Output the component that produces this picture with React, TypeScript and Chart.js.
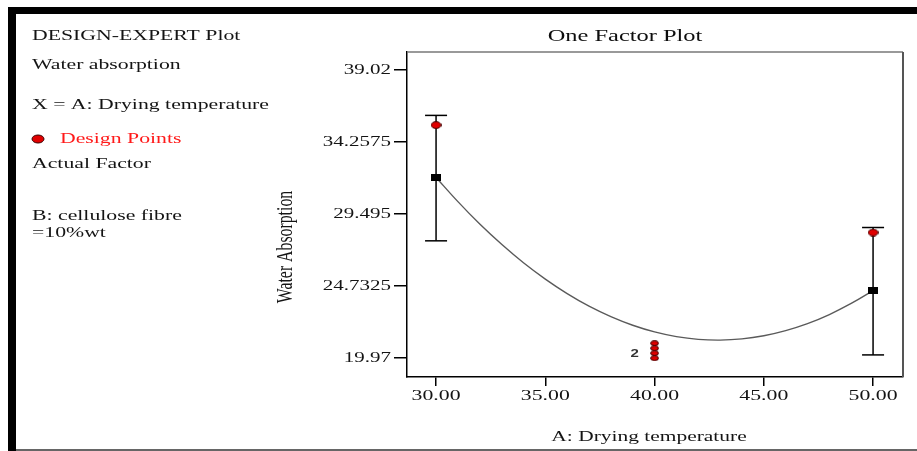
import React, { useEffect, useRef } from "react";
import { Chart, registerables } from "chart.js";

Chart.register(...registerables);

// ---- data ----
const curveX = [30, 31, 32, 33, 34, 35, 36, 37, 38, 39, 40, 41, 42, 43, 44, 45, 46, 47, 48, 49, 50];
const curveY = [31.92, 30.32, 28.84, 27.5, 26.28, 25.2, 24.24, 23.41, 22.72, 22.15, 21.71, 21.4, 21.22, 21.17, 21.25, 21.46, 21.8, 22.26, 22.86, 23.59, 24.44];

const meanX = [30, 50];
const meanY = [31.92, 24.44];
const errLow = [27.73, 20.19];
const errHigh = [36.02, 28.61];

const designX = [30, 50, 40, 40, 40, 40];
const designY = [35.38, 28.28, 20.96, 20.63, 20.3, 19.97];

const xTicks = [30, 35, 40, 45, 50];
const xTickLabels = ["30.00", "35.00", "40.00", "45.00", "50.00"];
const yTicks = [19.97, 24.7325, 29.495, 34.2575, 39.02];
const yTickLabels = ["19.97", "24.7325", "29.495", "34.2575", "39.02"];

const X_MIN = 28.67;
const X_MAX = 51.37;
const Y_MIN = 18.73;
const Y_MAX = 40.21;

const SERIF = '"Liberation Serif", "Times New Roman", serif';
const STRETCH = 1.5;

function sText(
  ctx: CanvasRenderingContext2D,
  text: string,
  x: number,
  y: number,
  font: string,
  color: string,
  align: CanvasTextAlign,
  sx = STRETCH
) {
  ctx.save();
  ctx.translate(x, y);
  ctx.scale(sx, 1);
  ctx.font = font;
  ctx.fillStyle = color;
  ctx.textAlign = align;
  ctx.textBaseline = "middle";
  ctx.fillText(text, 0, 0);
  ctx.restore();
}

function makeEllipse(w: number, h: number, fill: string, stroke: string) {
  const c = document.createElement("canvas");
  c.width = w;
  c.height = h;
  const g = c.getContext("2d")!;
  g.beginPath();
  g.ellipse(w / 2, h / 2, w / 2 - 0.6, h / 2 - 0.6, 0, 0, Math.PI * 2);
  g.fillStyle = fill;
  g.fill();
  g.lineWidth = 1;
  g.strokeStyle = stroke;
  g.stroke();
  return c;
}

function makeRect(w: number, h: number, fill: string) {
  const c = document.createElement("canvas");
  c.width = w;
  c.height = h;
  const g = c.getContext("2d")!;
  g.fillStyle = fill;
  g.fillRect(0, 0, w, h);
  return c;
}

export default function App() {
  const ref = useRef<HTMLCanvasElement | null>(null);

  useEffect(() => {
    if (!ref.current) return;
    const bigDot = makeEllipse(11, 8, "#e00000", "#3a0000");
    const smallDot = makeEllipse(9, 6, "#e00000", "#3a0000");
    const square = makeRect(10, 7, "#000");

    const decor = {
      id: "decor",
      beforeDraw(chart: any) {
        const ctx = chart.ctx as CanvasRenderingContext2D;
        ctx.save();
        ctx.fillStyle = "#fff";
        ctx.fillRect(0, 0, chart.width, chart.height);
        ctx.fillStyle = "#000";
        ctx.fillRect(8, 7, 909, 7);
        ctx.fillRect(8, 7, 8, 444);
        ctx.fillStyle = "#666";
        ctx.fillRect(16, 449, 901, 2);
        ctx.restore();
      },
      afterDraw(chart: any) {
        const ctx = chart.ctx as CanvasRenderingContext2D;
        const a = chart.chartArea;
        const xs = chart.scales.x;
        const ys = chart.scales.y;
        ctx.save();
        ctx.strokeStyle = "#777";
        ctx.lineWidth = 1.5;
        ctx.beginPath();
        ctx.moveTo(a.left, a.top);
        ctx.lineTo(a.right, a.top);
        ctx.stroke();
        ctx.strokeStyle = "#555";
        ctx.lineWidth = 2;
        ctx.beginPath();
        ctx.moveTo(a.right, a.top);
        ctx.lineTo(a.right, a.bottom);
        ctx.stroke();
        ctx.restore();

        const dark = "#141414";
        yTicks.forEach((v, i) => {
          sText(ctx, yTickLabels[i], a.left - 16, ys.getPixelForValue(v), `14px ${SERIF}`, dark, "right");
        });
        xTicks.forEach((v, i) => {
          sText(ctx, xTickLabels[i], xs.getPixelForValue(v), a.bottom + 19, `14.5px ${SERIF}`, dark, "center");
        });
        sText(ctx, "One Factor Plot", 625, 37, `16.3px ${SERIF}`, "#0d0d0d", "center");
        sText(ctx, "A: Drying temperature", 649, 437, `14.3px ${SERIF}`, dark, "center");
        ctx.save();
        ctx.translate(286, 247);
        ctx.scale(STRETCH, 1);
        ctx.rotate(-Math.PI / 2);
        ctx.font = `15.8px ${SERIF}`;
        ctx.fillStyle = dark;
        ctx.textAlign = "center";
        ctx.textBaseline = "middle";
        ctx.fillText("Water Absorption", 0, 0);
        ctx.restore();
        sText(
          ctx,
          "2",
          xs.getPixelForValue(40) - 20,
          ys.getPixelForValue(20.3) + 1,
          `bold 10px "Liberation Sans", sans-serif`,
          "#333",
          "center"
        );
        const f = `14.5px ${SERIF}`;
        sText(ctx, "DESIGN-EXPERT Plot", 32, 36, f, dark, "left");
        sText(ctx, "Water absorption", 32, 65, f, dark, "left");
        sText(ctx, "X = A: Drying temperature", 32, 105, f, dark, "left");
        ctx.save();
        ctx.beginPath();
        ctx.ellipse(38, 139, 6, 4, 0, 0, Math.PI * 2);
        ctx.fillStyle = "#e00000";
        ctx.fill();
        ctx.lineWidth = 1;
        ctx.strokeStyle = "#3a0000";
        ctx.stroke();
        ctx.restore();
        sText(ctx, "Design Points", 60, 139, f, "#ff1a1a", "left");
        sText(ctx, "Actual Factor", 32, 164, f, dark, "left");
        sText(ctx, "B: cellulose fibre", 32, 216, f, dark, "left");
        sText(ctx, "=10%wt", 32, 233, f, dark, "left");
      },
    };

    const errorSets = meanX.map((x, i) => ({
      type: "scatter" as const,
      data: [
        { x, y: errLow[i] },
        { x, y: errHigh[i] },
      ],
      showLine: true,
      borderColor: "#000",
      borderWidth: 1.5,
      pointStyle: "line" as const,
      pointRadius: 11,
      pointBorderColor: "#000",
      pointBorderWidth: 1.5,
      pointHoverRadius: 11,
      order: 2,
    }));

    const chart = new Chart(ref.current, {
      type: "scatter",
      data: {
        datasets: [
          {
            data: designX.map((x, i) => ({ x, y: designY[i] })),
            pointStyle: designX.map((_, i) => (i < 2 ? bigDot : smallDot)) as any,
            pointRadius: 5,
            order: 0,
          },
          {
            data: meanX.map((x, i) => ({ x, y: meanY[i] })),
            pointStyle: square as any,
            pointRadius: 5,
            order: 1,
          },
          ...errorSets,
          {
            data: curveX.map((x, i) => ({ x, y: curveY[i] })),
            showLine: true,
            borderColor: "#5a5a5a",
            borderWidth: 1.4,
            pointRadius: 0,
            tension: 0.4,
            order: 3,
          } as any,
        ],
      },
      options: {
        animation: false,
        responsive: true,
        maintainAspectRatio: false,
        layout: { padding: { left: 0, top: 52, right: 14, bottom: 0 } },
        plugins: { legend: { display: false }, title: { display: false }, tooltip: { enabled: false } },
        scales: {
          x: {
            type: "linear",
            min: X_MIN,
            max: X_MAX,
            afterBuildTicks: (s: any) => {
              s.ticks = xTicks.map((v) => ({ value: v }));
            },
            afterFit: (s: any) => {
              s.height = 74;
            },
            ticks: { display: false },
            grid: {
              display: true,
              drawOnChartArea: false,
              drawTicks: true,
              tickLength: 9,
              color: "#000",
              lineWidth: 1.5,
            },
            border: { display: true, color: "#000", width: 1.5 },
          },
          y: {
            type: "linear",
            min: Y_MIN,
            max: Y_MAX,
            afterBuildTicks: (s: any) => {
              s.ticks = yTicks.map((v) => ({ value: v }));
            },
            afterFit: (s: any) => {
              s.width = 407;
            },
            ticks: { display: false },
            grid: {
              display: true,
              drawOnChartArea: false,
              drawTicks: true,
              tickLength: 13,
              color: "#000",
              lineWidth: 1.5,
            },
            border: { display: true, color: "#000", width: 1.5 },
          },
        },
      },
      plugins: [decor],
    });
    return () => chart.destroy();
  }, []);

  return (
    <div style={{ position: "fixed", left: 0, top: 0, width: 917, height: 451, background: "#fff" }}>
      <canvas ref={ref} />
    </div>
  );
}
